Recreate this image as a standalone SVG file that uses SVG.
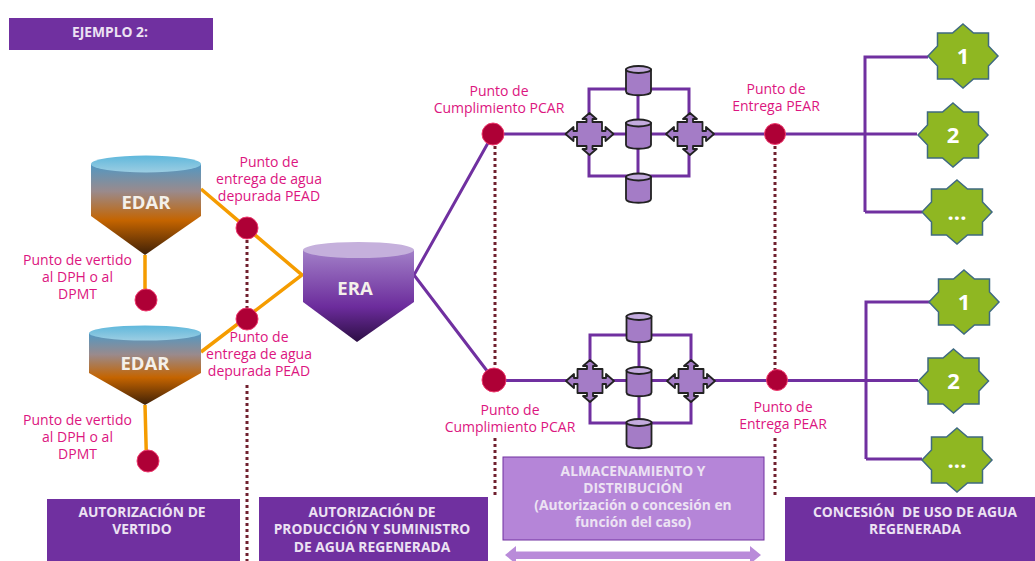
<svg xmlns="http://www.w3.org/2000/svg" xmlns:xlink="http://www.w3.org/1999/xlink" width="1035" height="561" viewBox="0 0 1035 561">
<style>
text{font-family:"Open Sans","Liberation Sans",sans-serif;text-anchor:middle}
.lb{font-size:14px;fill:#dc1580}
.w{font-size:13.8px;font-weight:700;fill:#ece2f3;white-space:pre}
.tk{font-size:18.5px;font-weight:700;fill:#f4f0ea}
.num{font-size:22px;font-weight:700;fill:#fff}
.o{stroke:#f59c00;stroke-width:3.5;fill:none}
.p{stroke:#7030a0;stroke-width:3;fill:none}
.d{stroke:#70202e;stroke-width:3;stroke-dasharray:3 3;fill:none}
.pt{fill:#ae0036;stroke:#ee3a6e;stroke-width:1}
.star{fill:#8fb722;stroke:#3f6a80;stroke-width:1.5}
.sh{fill:#a47cc6;stroke:#222;stroke-width:1.8;stroke-linejoin:round}
.band{fill:#7030a0}
</style>
<defs>
<linearGradient id="gE" x1="0" y1="0" x2="0" y2="1"><stop offset="0" stop-color="#5098c4"/><stop offset=".3" stop-color="#9a8a8c"/><stop offset=".62" stop-color="#c46400"/><stop offset="1" stop-color="#3f2006"/></linearGradient>
<linearGradient id="gT" x1="0" y1="0" x2="0" y2="1"><stop offset="0" stop-color="#5fb8dc"/><stop offset="1" stop-color="#9ccde2"/></linearGradient>
<linearGradient id="gR" x1="0" y1="0" x2="0" y2="1"><stop offset="0" stop-color="#a280c8"/><stop offset=".62" stop-color="#6c2c9c"/><stop offset="1" stop-color="#2c0e44"/></linearGradient>
<g id="cyl"><path class="sh" d="M-12.500-11V11C-12.500 16 12.500 16 12.500 11V-11Z"/><ellipse cx="0" cy="-11" rx="12.500" ry="3.500" fill="#c4abdf" stroke="#222" stroke-width="1.800"/></g>
<path id="cross" class="sh" d="M0-21 7-15H3V-12H12.500V-3H16V-7L24 0 16 7V3H12.500V12H3V15H7L0 21-7 15H-3V12H-12.500V3H-16V7L-24 0-16-7V-3H-12.500V-12H-3V-15H-7Z"/>
<path id="st" class="star" d="M0-32 10.500-23H25.500V-10L35 0 25.500 10V23H10.500L0 32-10.500 23H-25.500V10L-35 0-25.500-10V-23H-10.500Z"/>
</defs>
<g id="connectors">
<path class="o" d="M201 189 302 275 201 352M145 255V300M145 405 146.500 461"/>
<path class="d" d="M247 228V319M247 385V561M495 134V380M495 438V497M775 134V380M775 438V497"/>
<path class="p" d="M414 275 493 134M414 275 494 380M493 134H917M494 380.500H918M865 212V57H928M865 212H922M866 459V302H930M866 459H922"/>
<path class="p" d="M589 134V89H689V134M589 134V176H689V134M638 89V176"/>
<path class="p" d="M590 381V335H691V381M590 381V423H691V381M639 335V423"/>
</g>
<g id="title"><rect class="band" x="9" y="18" width="204" height="32"/><text class="w" x="110" y="37">EJEMPLO 2:</text></g>
<g id="edar1"><path d="M91 164H201V216L145 255 91 216Z" fill="url(#gE)"/><ellipse cx="146" cy="164" rx="55" ry="8.500" fill="url(#gT)"/><text class="tk" x="146" y="209">EDAR</text></g>
<g id="edar2"><path d="M89 333H201V373L145 405 89 373Z" fill="url(#gE)"/><ellipse cx="145" cy="333" rx="56" ry="7.500" fill="url(#gT)"/><text class="tk" x="145" y="370">EDAR</text></g>
<g id="era"><path d="M303 250H414V302L357 342 303 302Z" fill="url(#gR)"/><ellipse cx="358.500" cy="250" rx="55.500" ry="8" fill="#c5b0dc"/><text class="tk" x="355" y="295">ERA</text></g>
<g id="points">
<circle class="pt" cx="247" cy="228" r="11"/><circle class="pt" cx="247" cy="319" r="11"/><circle class="pt" cx="146" cy="300" r="11"/><circle class="pt" cx="148" cy="461" r="11"/><circle class="pt" cx="493" cy="134" r="11"/><circle class="pt" cx="494" cy="380" r="12"/><circle class="pt" cx="775" cy="134" r="10.500"/><circle class="pt" cx="777" cy="380" r="10.500"/>
</g>
<g id="storage1"><use xlink:href="#cyl" x="638.500" y="80.500"/><use xlink:href="#cyl" x="638.500" y="134"/><use xlink:href="#cyl" x="638.500" y="188"/><use xlink:href="#cross" x="589.500" y="134"/><use xlink:href="#cross" x="690" y="134"/></g>
<g id="storage2"><use xlink:href="#cyl" x="639" y="327.500"/><use xlink:href="#cyl" x="639" y="381.500"/><use xlink:href="#cyl" x="639" y="433.500"/><use xlink:href="#cross" x="590" y="381"/><use xlink:href="#cross" x="691" y="381"/></g>
<g id="stars">
<g id="s1"><use xlink:href="#st" x="963" y="56"/><text class="num" x="963" y="64">1</text></g>
<g id="s2"><use xlink:href="#st" x="953" y="135"/><text class="num" x="953" y="143">2</text></g>
<g id="s3"><use xlink:href="#st" x="957" y="212"/><text class="num" x="957" y="220">...</text></g>
<g id="s4"><use xlink:href="#st" x="964" y="302"/><text class="num" x="964" y="310">1</text></g>
<g id="s5"><use xlink:href="#st" x="953.500" y="381"/><text class="num" x="953.500" y="389">2</text></g>
<g id="s6"><use xlink:href="#st" x="957" y="460"/><text class="num" x="957" y="468">...</text></g>
</g>
<g id="labels">
<text class="lb"><tspan x="269" y="167">Punto de</tspan><tspan x="269" y="184">entrega de agua</tspan><tspan x="269" y="201">depurada PEAD</tspan></text>
<text class="lb"><tspan x="259" y="342">Punto de</tspan><tspan x="259" y="359">entrega de agua</tspan><tspan x="259" y="376">depurada PEAD</tspan></text>
<text class="lb"><tspan x="77.500" y="265">Punto de vertido</tspan><tspan x="77.500" y="282">al DPH o al</tspan><tspan x="77.500" y="299">DPMT</tspan></text>
<text class="lb"><tspan x="77.500" y="425">Punto de vertido</tspan><tspan x="77.500" y="442">al DPH o al</tspan><tspan x="77.500" y="459">DPMT</tspan></text>
<text class="lb"><tspan x="499" y="96">Punto de</tspan><tspan x="499" y="113">Cumplimiento PCAR</tspan></text>
<text class="lb"><tspan x="510" y="415">Punto de</tspan><tspan x="510" y="432">Cumplimiento PCAR</tspan></text>
<text class="lb"><tspan x="776" y="94">Punto de</tspan><tspan x="776" y="111">Entrega PEAR</tspan></text>
<text class="lb"><tspan x="783" y="412">Punto de</tspan><tspan x="783" y="429">Entrega PEAR</tspan></text>
</g>
<g id="b1"><rect class="band" x="47" y="499" width="193" height="62"/><text class="w"><tspan x="142" y="517">AUTORIZACIÓN DE</tspan><tspan x="142" y="534">VERTIDO</tspan></text></g>
<g id="b2"><rect class="band" x="259" y="497" width="229" height="64"/><text class="w"><tspan x="372" y="517">AUTORIZACIÓN DE</tspan><tspan x="372" y="534">PRODUCCIÓN Y SUMINISTRO</tspan><tspan x="372" y="552">DE AGUA REGENERADA</tspan></text></g>
<g id="b3"><rect x="503" y="457" width="261" height="83" fill="#b585d8" stroke="#7030a0" stroke-width="1"/><text class="w"><tspan x="633" y="476">ALMACENAMIENTO Y</tspan><tspan x="633" y="493">DISTRIBUCIÓN</tspan><tspan x="633" y="510">(Autorización o concesión en</tspan><tspan x="633" y="527">función del caso)</tspan></text></g>
<g id="b4"><rect class="band" x="785" y="497" width="250" height="64"/><text class="w"><tspan x="915" y="517">CONCESIÓN  DE USO DE AGUA</tspan><tspan x="915" y="534">REGENERADA</tspan></text></g>
<path id="range" d="M505 555 516 546V551.500H750V546L761 555 750 564V559H516V564Z" fill="#b98bd9"/>
</svg>
